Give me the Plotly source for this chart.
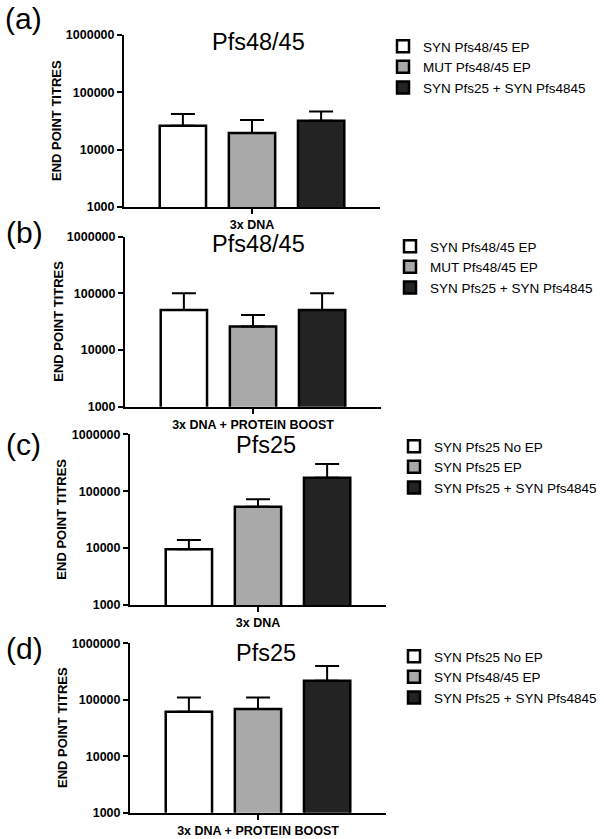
import plotly.graph_objects as go

W, H = 604, 839

# ---------------- data ----------------
panel_letters = ["(a)", "(b)", "(c)", "(d)"]
panel_titles = ["Pfs48/45", "Pfs48/45", "Pfs25", "Pfs25"]
x_categories = [["3x DNA"], ["3x DNA + PROTEIN BOOST"], ["3x DNA"], ["3x DNA + PROTEIN BOOST"]]

names_a = ["SYN Pfs48/45 EP", "MUT Pfs48/45 EP", "SYN Pfs25 + SYN Pfs4845"]
values_a = [26000, 19500, 32000]
errtop_a = [42000, 33000, 46500]

names_b = ["SYN Pfs48/45 EP", "MUT Pfs48/45 EP", "SYN Pfs25 + SYN Pfs4845"]
values_b = [51000, 26000, 51000]
errtop_b = [100000, 41500, 100000]

names_c = ["SYN Pfs25 No EP", "SYN Pfs25 EP", "SYN Pfs25 + SYN Pfs4845"]
values_c = [9500, 53500, 172000]
errtop_c = [13900, 72000, 300000]

names_d = ["SYN Pfs25 No EP", "SYN Pfs48/45 EP", "SYN Pfs25 + SYN Pfs4845"]
values_d = [61500, 68500, 218000]
errtop_d = [110000, 110000, 395000]

y_tickvals = [1000, 10000, 100000, 1000000]
y_ticktext = ["1000", "10000", "100000", "1000000"]
y_title = "END POINT TITRES"

# ---------------- styles ----------------
bar_colors = ["#ffffff", "#a9a9a9", "#232323"]
FONT = "Arial, Liberation Sans, sans-serif"

# pixel layout per panel: (x0, x1, ytop, ybottom)
boxes = [(124, 380, 35, 207), (125, 381, 236.7, 406.7), (130, 386, 434.3, 605), (130, 386, 643.3, 812.7)]
legend_pos = [(383, 31), (390, 231), (394, 431), (394, 641)]
title_pos = [(258, 42), (258, 244), (266, 445), (266, 653)]
letter_pos = [(23, 19), (24, 232), (23, 444), (24, 648)]
ytitle_x = [56, 59, 62, 62]

def px(x):
    return x / W

def py(y):
    return 1 - y / H

panels = [(names_a, values_a, errtop_a), (names_b, values_b, errtop_b),
          (names_c, values_c, errtop_c), (names_d, values_d, errtop_d)]

fig = go.Figure()
annotations = []
layout = dict(
    width=W, height=H, margin=dict(l=0, r=0, t=0, b=0, autoexpand=False),
    paper_bgcolor="white", plot_bgcolor="white",
    barmode="group", bargap=0.19, bargroupgap=0.33,
    font=dict(family=FONT, color="black"),
    showlegend=True,
)

for i, (names, vals, tops) in enumerate(panels):
    sfx = "" if i == 0 else str(i + 1)
    xa, ya = "x" + sfx, "y" + sfx
    leg = "legend" + sfx
    for j in range(3):
        fig.add_trace(go.Bar(
            x=x_categories[i], y=[vals[j]], name=names[j],
            xaxis=xa, yaxis=ya, legend=leg,
            marker=dict(color=bar_colors[j], line=dict(color="black", width=2.5)),
            error_y=dict(type="data", symmetric=False, array=[tops[j] - vals[j]],
                         arrayminus=[0], color="black", thickness=2, width=12),
        ))
    x0, x1, yt, yb = boxes[i]
    layout["xaxis" + sfx] = dict(
        domain=[px(x0), px(x1)], anchor=ya, type="category", range=[-0.5, 0.5],
        automargin=False,
        showline=True, linecolor="black", linewidth=2, ticks="outside", ticklen=5,
        tickwidth=2, tickcolor="black", showgrid=False, zeroline=False,
        tickfont=dict(family=FONT, size=12.5, weight="bold", color="black"),
    )
    layout["yaxis" + sfx] = dict(
        domain=[py(yb), py(yt)], anchor=xa, type="log", range=[3, 6],
        automargin=False,
        tickvals=y_tickvals, ticktext=y_ticktext,
        showline=True, linecolor="black", linewidth=2, ticks="outside", ticklen=5,
        tickwidth=2, tickcolor="black", showgrid=False, zeroline=False,
        tickfont=dict(family=FONT, size=12.5, weight="bold", color="black"),
    )
    lx, ly = legend_pos[i]
    layout[leg] = dict(
        x=px(lx), y=py(ly), xanchor="left", yanchor="top",
        xref="paper", yref="paper", bgcolor="rgba(0,0,0,0)",
        font=dict(family=FONT, size=13.5, color="black"),
        itemclick=False, itemdoubleclick=False,
    )
    tx, ty = title_pos[i]
    annotations.append(dict(text=panel_titles[i], x=px(tx), y=py(ty), xref="paper", yref="paper",
                            showarrow=False, font=dict(family=FONT, size=23.5, color="black"),
                            xanchor="center", yanchor="middle", borderpad=0))
    lx2, ly2 = letter_pos[i]
    annotations.append(dict(text=panel_letters[i], x=px(lx2), y=py(ly2), xref="paper", yref="paper",
                            showarrow=False, font=dict(family=FONT, size=30, color="black"),
                            xanchor="center", yanchor="middle"))
    annotations.append(dict(text=y_title, x=px(ytitle_x[i]), y=py((yt + yb) / 2), xref="paper", yref="paper",
                            showarrow=False, textangle=-90,
                            font=dict(family=FONT, size=13, weight="bold", color="black"),
                            xanchor="center", yanchor="middle"))

layout["annotations"] = annotations
fig.update_layout(**layout)
fig.write_html("out.html", config={"displayModeBar": False},
               post_script="document.body.style.margin='0';document.body.style.padding='0';")
